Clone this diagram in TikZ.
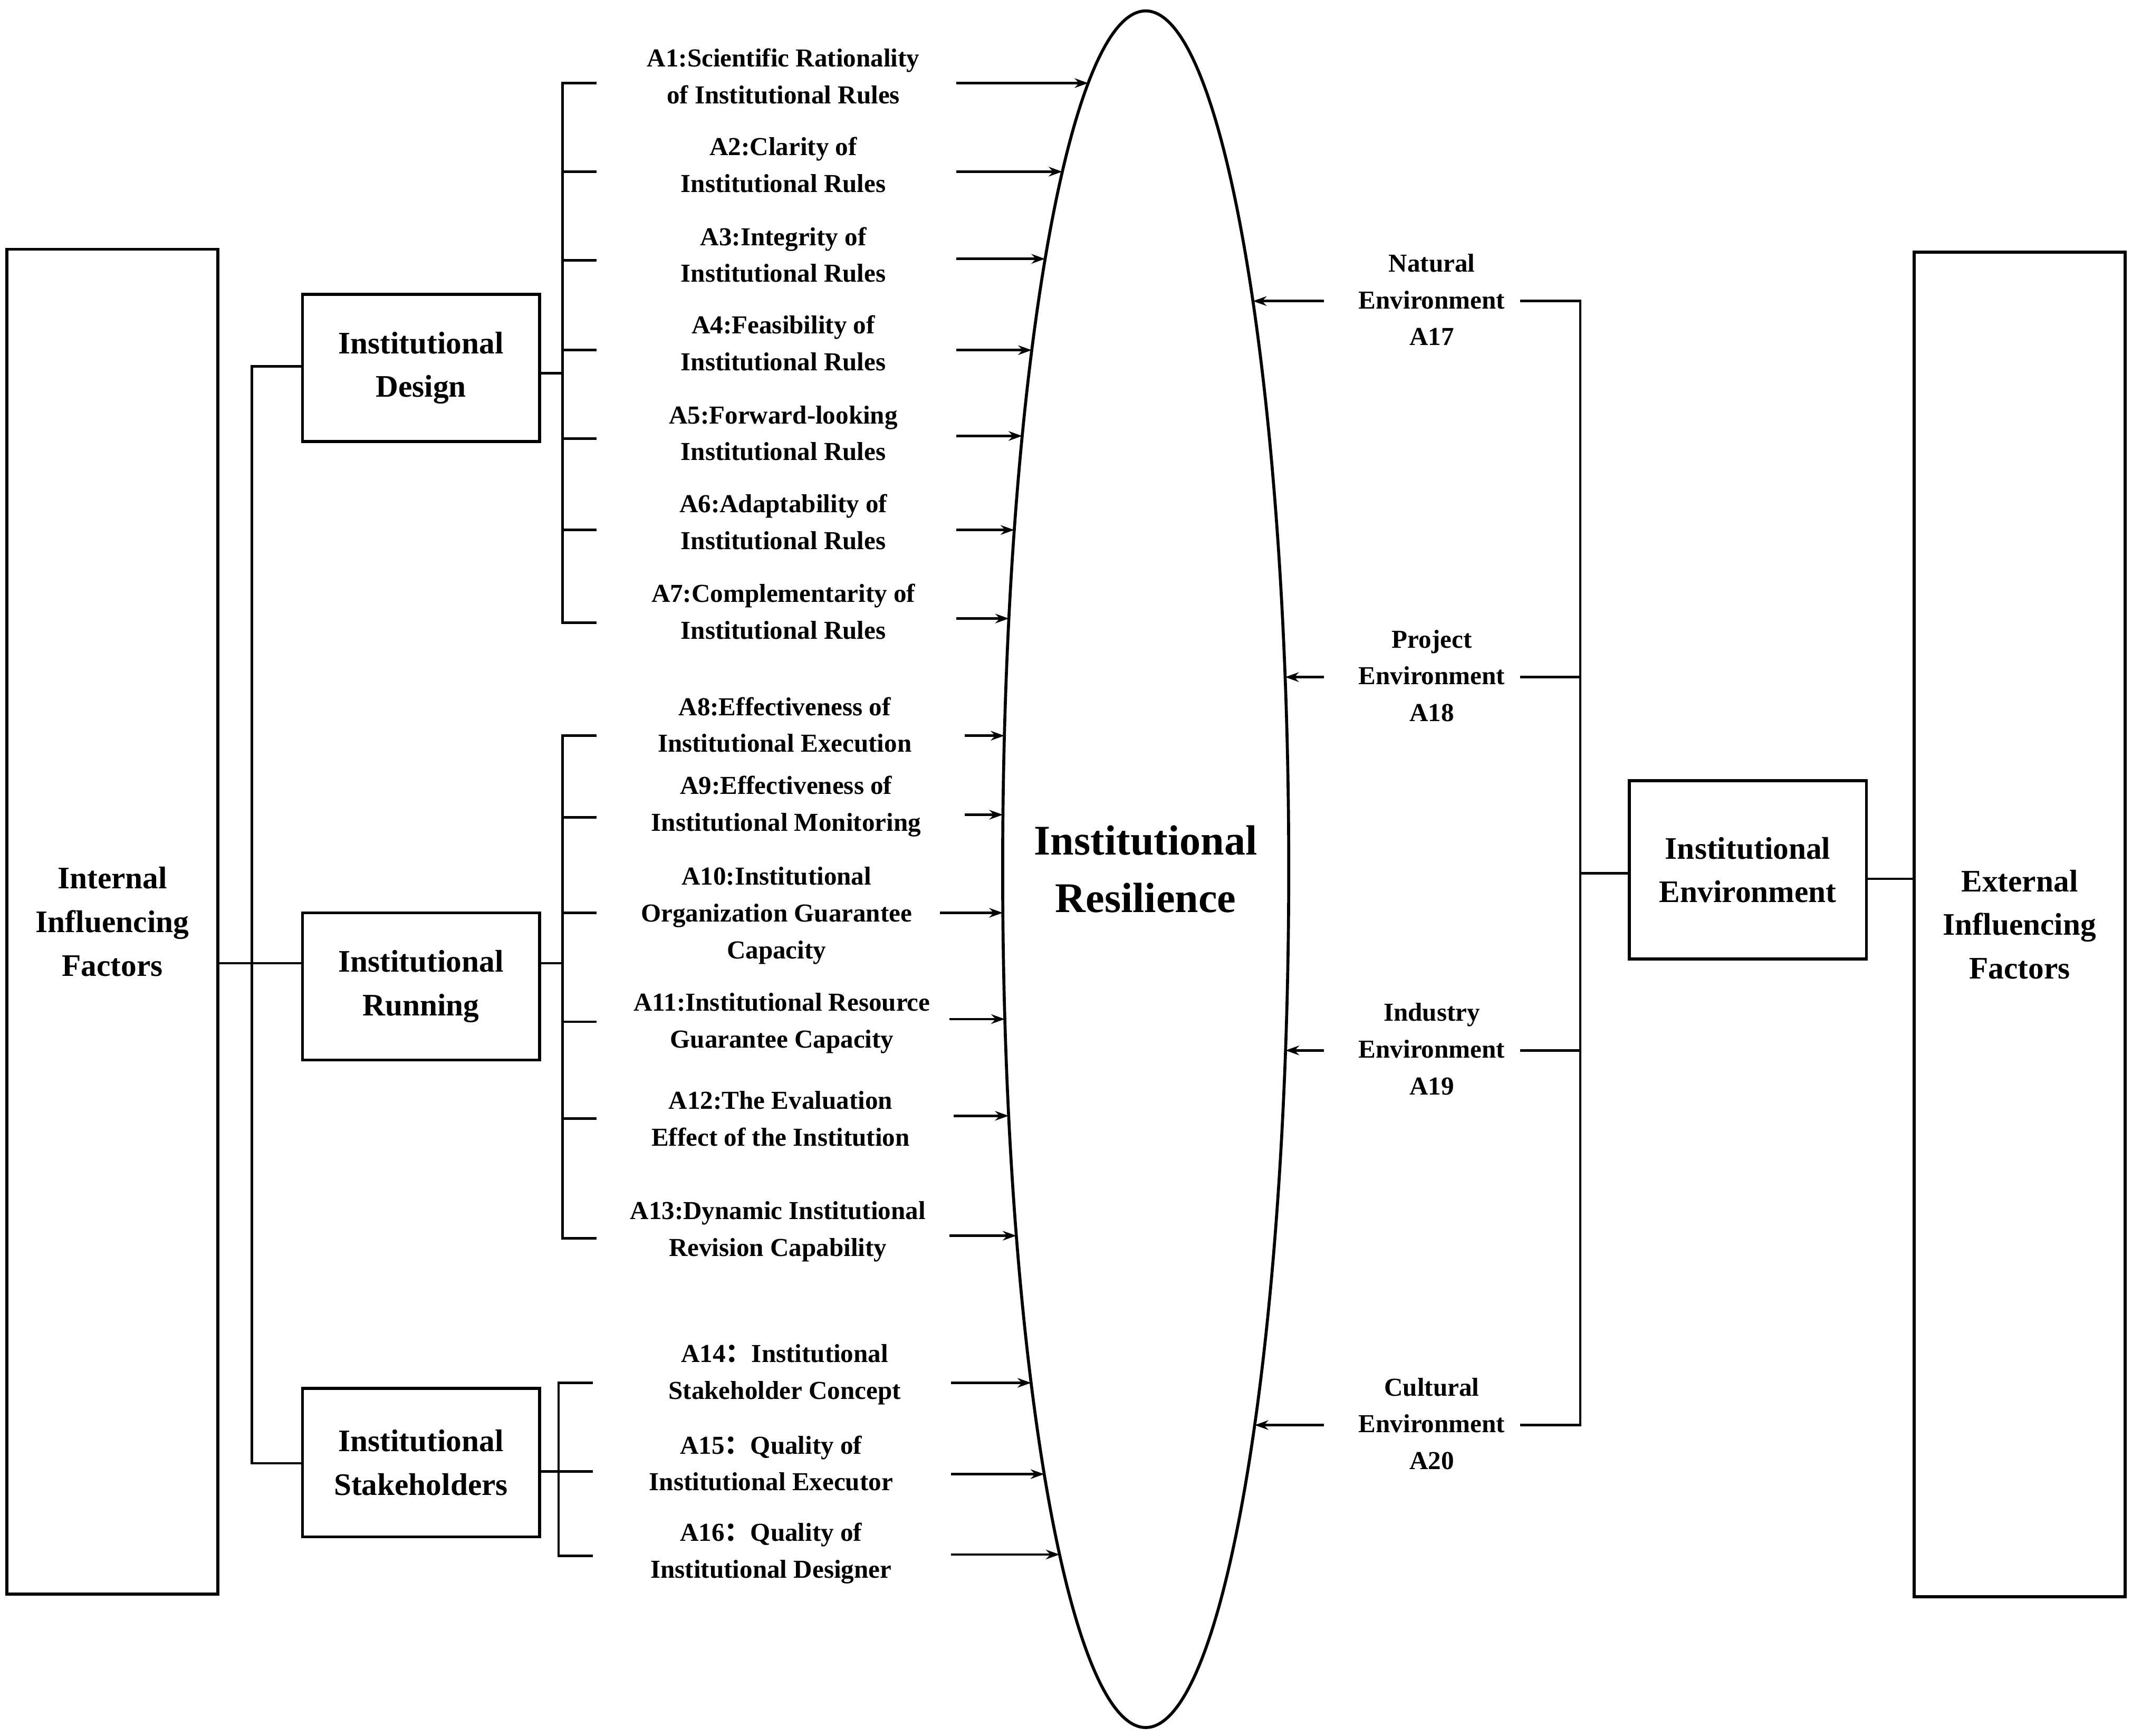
\documentclass[tikz,border=0pt]{standalone}
\usepackage{fontspec}
\usetikzlibrary{arrows.meta}
\setmainfont{Liberation Serif}
\newfontfamily\cjk{Noto Sans CJK SC}
\begin{document}
\begin{tikzpicture}[x=0.5pt,y=-0.5pt,line width=0.9pt,
  box/.style={draw,line width=1.1pt,align=center,font=\bfseries\fontsize{11.5}{16}\selectfont,inner sep=0pt},
  item/.style={align=center,font=\bfseries\fontsize{9.5}{13.5}\selectfont,inner sep=0pt},
  arr/.style={-{Stealth[length=5pt,width=3.5pt]},line width=0.9pt}]
\useasboundingbox (0,0) rectangle (1565,1274);
\draw[line width=1.1pt] (841,638) ellipse [x radius=105, y radius=630];
\node[font=\bfseries\fontsize{15.5}{21}\selectfont,align=center] (res) at (841,638) {Institutional\\Resilience};
% left boxes
\node[box,minimum width=77.5pt,minimum height=493.5pt] (int) at (82.5,676.5) {Internal\\Influencing\\Factors};
\node[box,minimum width=87pt,minimum height=54pt] (des) at (309,270) {Institutional\\Design};
\node[box,minimum width=87pt,minimum height=54pt] (run) at (309,724) {Institutional\\Running};
\node[box,minimum width=87pt,minimum height=54.5pt] (sta) at (309,1073.5) {Institutional\\Stakeholders};
\draw (160,707) -- (185,707);
\draw (des.west|-0,269) -| (185,1074) -- (sta.west|-0,1074);
\draw (185,707) -- (run.west|-0,707);
% ellipse edge helpers
\newcommand\lx[1]{841-105*sqrt(1-((#1-638)/630)^2)}
\newcommand\rx[1]{841+105*sqrt(1-((#1-638)/630)^2)}
% design items
\draw (des.east|-0,274) -- (413,274);
\draw (438,61) -| (413,457) -- (438,457);
\foreach \y in {126,191,257,322,389} \draw (413,\y) -- (438,\y);
\foreach \t/\ty/\y/\xs [count=\i] in {
 {A1:Scientific Rationality\\of Institutional Rules}/56/61/702,
 {A2:Clarity of\\Institutional Rules}/121/126/702,
 {A3:Integrity of\\Institutional Rules}/187/190/702,
 {A4:Feasibility of\\Institutional Rules}/252/257/702,
 {A5:Forward-looking\\Institutional Rules}/318/320/702,
 {A6:Adaptability of\\Institutional Rules}/383/389/702,
 {A7:Complementarity of\\Institutional Rules}/449/454/702}{
  \node[item] (d\i) at (575,\ty) {\t};
  \pgfmathsetmacro\ex{\lx{\y}}
  \coordinate (de\i) at (\ex,\y);
  \draw[arr] (\xs,\y) -- (de\i);
}
% running items
\draw (run.east|-0,707) -- (413,707);
\draw (438,540) -| (413,909) -- (438,909);
\foreach \y in {600,670,750,821} \draw (413,\y) -- (438,\y);
\foreach \t/\tx/\ty/\y/\xs [count=\i] in {
 {A8:Effectiveness of\\Institutional Execution}/576/532/540/708,
 {A9:Effectiveness of\\Institutional Monitoring}/577/592/598/708,
 {A10:Institutional\\Organization Guarantee\\Capacity}/570/672/670/690,
 {A11:Institutional Resource\\Guarantee Capacity}/574/751/748/697,
 {A12:The Evaluation\\Effect of the Institution}/573/821/819/700,
 {A13:Dynamic Institutional\\Revision Capability}/571/904/907/697}{
  \node[item] (r\i) at (\tx,\ty) {\t};
  \pgfmathsetmacro\ex{\lx{\y}}
  \coordinate (re\i) at (\ex,\y);
  \draw[arr] (\xs,\y) -- (re\i);
}
% stakeholder items
\draw (sta.east|-0,1080) -- (410,1080);
\draw (435,1015) -| (410,1142) -- (435,1142);
\draw (410,1080) -- (435,1080);
\foreach \t/\tx/\ty/\y [count=\i] in {
 {A14{\cjk ：}Institutional\\Stakeholder Concept}/576/1009/1015,
 {A15{\cjk ：}Quality of\\Institutional Executor}/566/1074/1082,
 {A16{\cjk ：}Quality of\\Institutional Designer}/566/1140/1141}{
  \node[item] (s\i) at (\tx,\ty) {\t};
  \pgfmathsetmacro\ex{\lx{\y}}
  \coordinate (se\i) at (\ex,\y);
  \draw[arr] (698,\y) -- (se\i);
}
% right side
\node[box,minimum width=77.5pt,minimum height=493.5pt] (ext) at (1482.5,678.5) {External\\Influencing\\Factors};
\node[box,minimum width=87pt,minimum height=65.5pt] (env) at (1283,638.5) {Institutional\\Environment};
\draw (env.east|-0,645) -- (ext.west|-0,645);
\draw (env.west|-0,641) -- (1160,641);
\draw (1116,221) -| (1160,1046) -- (1116,1046);
\draw (1116,497) -- (1160,497);
\draw (1116,771) -- (1160,771);
\foreach \t/\y [count=\i] in {
 {Natural\\Environment\\A17}/221,
 {Project\\Environment\\A18}/497,
 {Industry\\Environment\\A19}/771,
 {Cultural\\Environment\\A20}/1046}{
  \node[item] (e\i) at (1051,\y-1) {\t};
  \pgfmathsetmacro\ex{\rx{\y}}
  \coordinate (ee\i) at (\ex,\y);
  \draw[arr] (972,\y) -- (ee\i);
}
\end{tikzpicture}
\end{document}
